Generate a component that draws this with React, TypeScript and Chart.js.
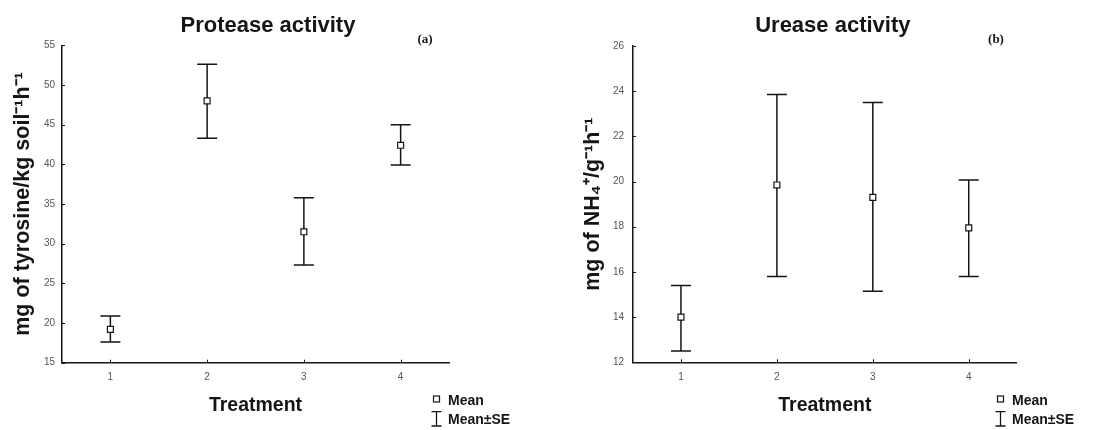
import React, { useEffect, useRef } from 'react';
import { Chart, registerables } from 'chart.js';

Chart.register(...registerables);
Chart.defaults.font.family = "'Liberation Sans', Arial, sans-serif";

// ---- data ----
const treatments = [1, 2, 3, 4];

const proteaseMean = [19.2, 48.0, 31.5, 42.4];
const proteaseLow = [17.6, 43.3, 27.3, 39.9];
const proteaseHigh = [20.9, 52.6, 35.8, 45.0];
const proteaseYTicks = [15, 20, 25, 30, 35, 40, 45, 50, 55];

const ureaseMean = [14.0, 19.85, 19.3, 17.95];
const ureaseLow = [12.5, 15.8, 15.15, 15.8];
const ureaseHigh = [15.4, 23.85, 23.5, 20.07];
const ureaseYTicks = [12, 14, 16, 18, 20, 22, 24, 26];

const legendLabels = ['Mean', 'Mean±SE'];

type Panel = {
  title: string;
  tag: string;
  yTitle: string;
  xTitle: string;
  mean: number[];
  low: number[];
  high: number[];
  yTicks: number[];
  yAxisWidth: number;
  xAxisHeight: number;
  padTop: number;
  padRight: number;
  yTitlePad: number;
  yTickPad: number;
  titleShift: number;
  tagX: number;
  legendX: number;
};

const panels: Panel[] = [
  {
    title: 'Protease activity',
    tag: '(a)',
    yTitle: 'mg of tyrosine/kg soil⁻¹h⁻¹',
    xTitle: 'Treatment',
    mean: proteaseMean,
    low: proteaseLow,
    high: proteaseHigh,
    yTicks: proteaseYTicks,
    yAxisWidth: 62,
    xAxisHeight: 67.3,
    padTop: 45.3,
    padRight: 109,
    yTitlePad: 10.4,
    yTickPad: 7,
    titleShift: 12.5,
    tagX: 425,
    legendX: 448,
  },
  {
    title: 'Urease activity',
    tag: '(b)',
    yTitle: 'mg of NH₄⁺/g⁻¹h⁻¹',
    xTitle: 'Treatment',
    mean: ureaseMean,
    low: ureaseLow,
    high: ureaseHigh,
    yTicks: ureaseYTicks,
    yAxisWidth: 75,
    xAxisHeight: 67.7,
    padTop: 46,
    padRight: 99.3,
    yTitlePad: 22,
    yTickPad: 9,
    titleShift: 8,
    tagX: 438,
    legendX: 454,
  },
];

const INK = '#151515';
const CAP = 10;

function PanelChart({ p }: { p: Panel }) {
  const ref = useRef<HTMLCanvasElement | null>(null);

  useEffect(() => {
    if (!ref.current) return;

    const errorBars = {
      id: 'errorBars',
      beforeDatasetsDraw(chart: any) {
        const { ctx, scales } = chart;
        const x = scales.x;
        const y = scales.y;
        ctx.save();
        ctx.strokeStyle = INK;
        ctx.lineWidth = 1.5;
        p.low.forEach((lo, i) => {
          const px = x.getPixelForValue(treatments[i]);
          const yl = y.getPixelForValue(lo);
          const yh = y.getPixelForValue(p.high[i]);
          ctx.beginPath();
          ctx.moveTo(px, yh);
          ctx.lineTo(px, yl);
          ctx.moveTo(px - CAP, yh);
          ctx.lineTo(px + CAP, yh);
          ctx.moveTo(px - CAP, yl);
          ctx.lineTo(px + CAP, yl);
          ctx.stroke();
        });
        ctx.restore();
      },
    };

    const decorations = {
      id: 'decorations',
      afterDraw(chart: any) {
        const { ctx, chartArea, scales } = chart;
        ctx.save();
        // inward tick marks
        ctx.strokeStyle = INK;
        ctx.lineWidth = 1;
        ctx.beginPath();
        treatments.forEach((t) => {
          const px = Math.round(scales.x.getPixelForValue(t)) + 0.5;
          ctx.moveTo(px, chartArea.bottom);
          ctx.lineTo(px, chartArea.bottom - 3);
        });
        p.yTicks.forEach((v) => {
          const py = Math.round(scales.y.getPixelForValue(v)) + 0.5;
          ctx.moveTo(chartArea.left, py);
          ctx.lineTo(chartArea.left + 3, py);
        });
        ctx.stroke();

        // title
        ctx.fillStyle = INK;
        ctx.textAlign = 'center';
        ctx.textBaseline = 'alphabetic';
        ctx.font = "bold 22px 'Liberation Sans', Arial, sans-serif";
        ctx.fillText(p.title, (chartArea.left + chartArea.right) / 2 + p.titleShift, 31.5);

        // panel tag
        ctx.font = "bold 13px 'Liberation Serif', 'Times New Roman', serif";
        ctx.fillText(p.tag, p.tagX, 43);

        // legend
        const lx = p.legendX;
        const ix = lx - 11.5;
        ctx.lineWidth = 1.2;
        ctx.strokeRect(ix - 3, 396, 6, 6);
        ctx.lineWidth = 1.3;
        ctx.beginPath();
        ctx.moveTo(ix, 411.7);
        ctx.lineTo(ix, 426);
        ctx.moveTo(ix - 5, 411.7);
        ctx.lineTo(ix + 5, 411.7);
        ctx.moveTo(ix - 5, 426);
        ctx.lineTo(ix + 5, 426);
        ctx.stroke();
        ctx.textAlign = 'left';
        ctx.font = "bold 14px 'Liberation Sans', Arial, sans-serif";
        ctx.fillText(legendLabels[0], lx, 405);
        ctx.fillText(legendLabels[1], lx, 424);
        ctx.restore();
      },
    };

    const chart = new Chart(ref.current, {
      type: 'scatter',
      data: {
        datasets: [
          {
            label: legendLabels[0],
            data: treatments.map((t, i) => ({ x: t, y: p.mean[i] })),
            pointStyle: 'rect',
            pointRadius: 4.2,
            pointHoverRadius: 4.2,
            borderColor: INK,
            backgroundColor: '#ffffff',
            pointBorderWidth: 1.2,
            showLine: false,
          },
        ],
      },
      options: {
        responsive: false,
        animation: false,
        events: [],
        layout: { padding: { top: p.padTop, right: p.padRight, left: 0, bottom: 0 } },
        plugins: {
          legend: { display: false },
          tooltip: { enabled: false },
          title: { display: false },
        },
        scales: {
          x: {
            type: 'linear',
            min: 0.5,
            max: 4.5,
            afterBuildTicks: (s: any) => {
              s.ticks = treatments.map((v) => ({ value: v }));
            },
            afterFit: (s: any) => {
              s.height = p.xAxisHeight;
            },
            grid: { display: false, drawTicks: false },
            border: { display: true, color: INK, width: 1.5 },
            ticks: { color: '#555', font: { size: 10 }, padding: 9, maxRotation: 0 },
            title: {
              display: true,
              text: p.xTitle,
              color: INK,
              font: { size: 19.5, weight: 'bold' },
              padding: { top: 0, bottom: 12.8 },
            },
          },
          y: {
            type: 'linear',
            min: p.yTicks[0],
            max: p.yTicks[p.yTicks.length - 1],
            afterBuildTicks: (s: any) => {
              s.ticks = p.yTicks.map((v) => ({ value: v }));
            },
            afterFit: (s: any) => {
              s.width = p.yAxisWidth;
            },
            grid: { display: false, drawTicks: false },
            border: { display: true, color: INK, width: 1.5 },
            ticks: { color: '#555', font: { size: 10 }, padding: p.yTickPad },
            title: {
              display: true,
              text: p.yTitle,
              color: INK,
              font: { size: 21.5, weight: 'bold' },
              padding: { top: p.yTitlePad, bottom: 0 },
            },
          },
        },
      },
      plugins: [errorBars, decorations],
    } as any);

    return () => chart.destroy();
  }, [p]);

  return <canvas ref={ref} width={558} height={430} style={{ display: 'block' }} />;
}

export default function App() {
  return (
    <div
      style={{
        position: 'fixed',
        left: 0,
        top: 0,
        width: 1116,
        height: 430,
        display: 'flex',
        background: '#ffffff',
      }}
    >
      {panels.map((p) => (
        <PanelChart key={p.title} p={p} />
      ))}
    </div>
  );
}
